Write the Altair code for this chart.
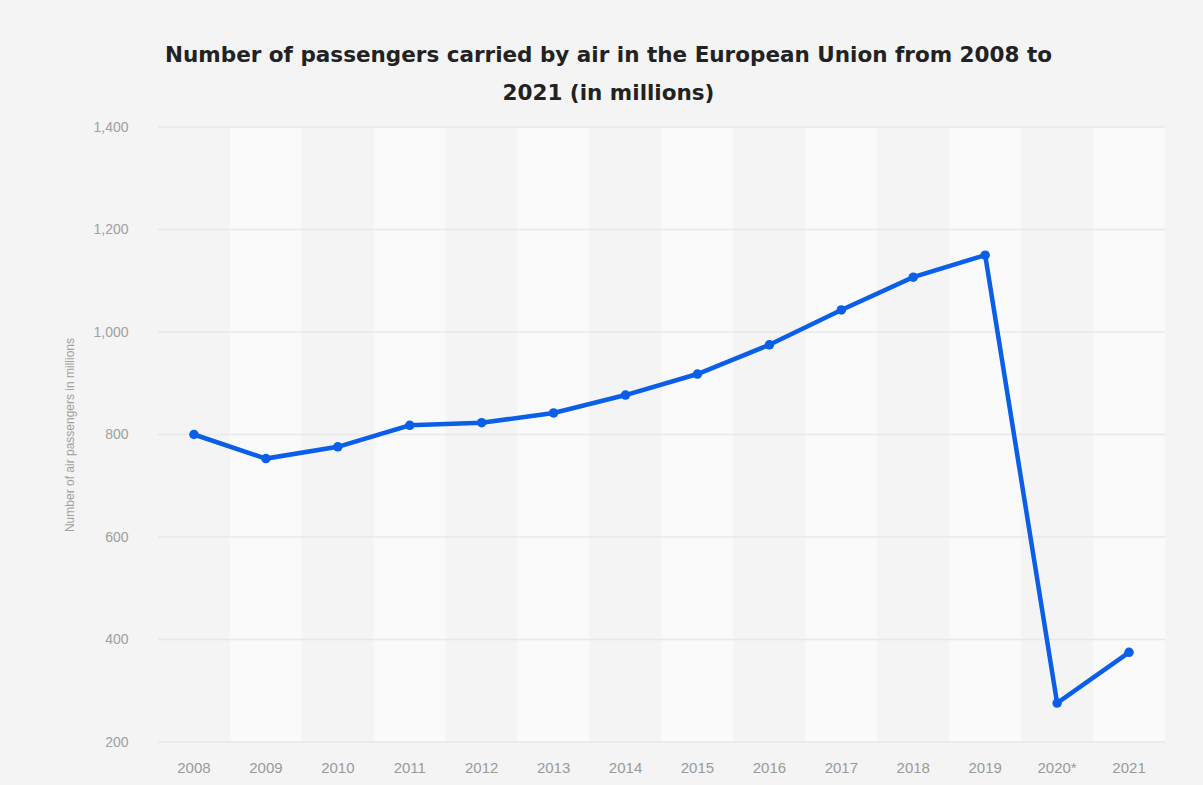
import altair as alt
import pandas as pd

years = ["2008", "2009", "2010", "2011", "2012", "2013", "2014",
         "2015", "2016", "2017", "2018", "2019", "2020*", "2021"]
passengers = [800, 753, 776, 818, 823, 842, 877, 918, 975, 1043, 1107, 1150, 276, 375]
y_ticks = [200, 400, 600, 800, 1000, 1200, 1400]

W, H = 1007, 615
LEFT, TOP = 158, 127

df = pd.DataFrame({
    "year": years,
    "value": passengers,
    "shade": ["dark" if i % 2 == 0 else "light" for i in range(len(years))],
})
grid_df = pd.DataFrame({"tick": y_ticks})

xscale = alt.Scale(domain=years, paddingInner=0, paddingOuter=0)
yscale = alt.Scale(domain=[200, 1400], nice=False, zero=False)

xenc = alt.X("year:N", scale=xscale, sort=years,
             axis=alt.Axis(title=None, labelAngle=0, labelColor="#9a9a9a",
                           labelFontSize=15, labelPadding=18, ticks=False,
                           domain=False, grid=False, zindex=1,
                           labelFont="Liberation Sans"))

bands = alt.Chart(df).transform_filter(alt.datum.shade == "light").mark_rect(
    color="#fafafa"
).encode(x=xenc, y=alt.value(0), y2=alt.value(H))

grid = alt.Chart(grid_df).mark_rule(color="#e8e8e8", strokeWidth=1.5).encode(
    y=alt.Y("tick:Q", scale=yscale,
            axis=alt.Axis(title="Number of air passengers in millions",
                          values=y_ticks, format=",d", labelColor="#a0a0a0",
                          labelFontSize=14, labelPadding=30, ticks=False,
                          domain=False, grid=False, zindex=1,
                          titleColor="#a0a0a0", titleFontSize=12,
                          titleFontWeight="normal", titlePadding=16,
                          labelFont="Liberation Sans",
                          titleFont="Liberation Sans")),
    x=alt.value(0), x2=alt.value(W),
)

line = alt.Chart(df).mark_line(
    color="#0a5fe6", strokeWidth=4.5,
    point=alt.OverlayMarkDef(color="#0a5fe6", size=90, filled=True, opacity=1),
).encode(
    x=xenc,
    y=alt.Y("value:Q", scale=yscale),
)

chart = alt.layer(bands, grid, line).properties(
    width=W, height=H,
    title=alt.TitleParams(
        text=["Number of passengers carried by air in the European Union from 2008 to",
              "2021 (in millions)"],
        font="DejaVu Sans", fontSize=21.5, fontWeight="bold", color="#222222",
        anchor="middle", frame="group", dx=-53, offset=16, lineHeight=38,
    ),
    background="#f4f4f4",
    padding={"left": LEFT, "top": TOP, "right": 1203 - LEFT - W, "bottom": 785 - TOP - H},
    autosize=alt.AutoSizeParams(type="none"),
).configure_view(stroke=None)

chart.save("out.html", embed_options={"renderer": "svg", "actions": False})
